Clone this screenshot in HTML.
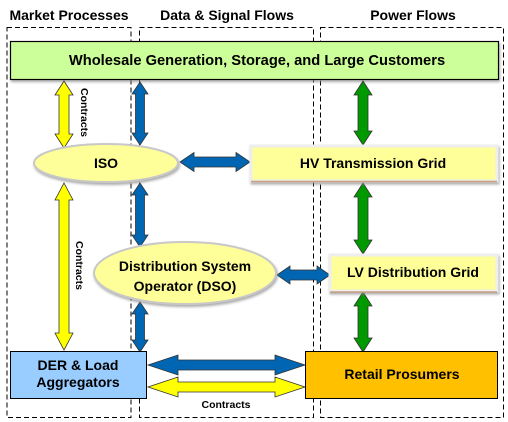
<!DOCTYPE html>
<html><head><meta charset="utf-8"><style>
html,body{margin:0;padding:0;background:#fff;}
svg{display:block;font-family:"Liberation Sans",Arial,sans-serif;font-weight:bold;}
</style></head><body>
<svg width="508" height="422" viewBox="0 0 508 422" xmlns="http://www.w3.org/2000/svg">
<defs>
<filter id="sh" x="-10%" y="-10%" width="130%" height="140%"><feDropShadow dx="1" dy="2" stdDeviation="1.2" flood-color="#888" flood-opacity="0.7"/></filter>
</defs>
<g font-size="14" fill="#000" text-anchor="middle">
<text x="69" y="20">Market Processes</text>
<text x="227" y="20">Data &amp; Signal Flows</text>
<text x="413" y="20">Power Flows</text>
</g>
<g fill="none" stroke="#000" stroke-width="1" stroke-dasharray="5,3">
<rect x="7" y="27.5" width="124" height="390"/>
<rect x="139.5" y="27.5" width="174" height="390"/>
<rect x="320.5" y="27.5" width="183" height="390"/>
</g>
<rect x="10.5" y="41.5" width="488" height="38" fill="#ccff99" stroke="#000" stroke-width="1.2" filter="url(#sh)"/>
<text x="257" y="65" font-size="14.7" text-anchor="middle">Wholesale Generation, Storage, and Large Customers</text>

<g stroke="#333" stroke-width="0.8">
<polygon fill="#ffff00" points="64,81 73,95 69,95 69,134 73,134 64,148 55,134 59,134 59,95 55,95"/>
<polygon fill="#0066b3" points="140,82 148,94 144.5,94 144.5,133 148,133 140,145 132,133 135.5,133 135.5,94 132,94"/>
<polygon fill="#009900" points="363,81 372,95 368,95 368,131 372,131 363,145 354,131 358,131 358,95 354,95"/>
<polygon fill="#ffff00" points="64,183 73,200 69,200 69,333 73,333 64,350 55,333 59,333 59,200 55,200"/>
<polygon fill="#0066b3" points="140,183 148,195 144.5,195 144.5,235 148,235 140,247 132,235 135.5,235 135.5,195 132,195"/>
<polygon fill="#009900" points="363,183 372,197 368,197 368,240 372,240 363,254 354,240 358,240 358,197 354,197"/>
<polygon fill="#0066b3" points="140,302 148,314 144.5,314 144.5,340 148,340 140,352 132,340 135.5,340 135.5,314 132,314"/>
<polygon fill="#009900" points="363,292 372,306 368,306 368,338 372,338 363,352 354,338 358,338 358,306 354,306"/>
<polygon fill="#0066b3" points="180,162 194,152.5 194,157 236,157 236,152.5 250,162 236,171.5 236,167 194,167 194,171.5"/>
<polygon fill="#0066b3" points="277,275 290,266 290,270 317,270 317,266 330,275 317,284 317,280 290,280 290,284"/>
<polygon fill="#0066b3" points="148,365 178,355 178,360 275,360 275,355 305,365 275,375 275,370 178,370 178,375"/>
<polygon fill="#ffff00" points="148,387 178,377 178,382 275,382 275,377 305,387 275,397 275,392 178,392 178,397"/>
</g>

<g font-size="10.5" fill="#000">
<text transform="translate(81,88) rotate(90)">Contracts</text>
<text transform="translate(76,241) rotate(90)">Contracts</text>
<text x="226" y="408" text-anchor="middle">Contracts</text>
</g>

<ellipse cx="106" cy="163" rx="72" ry="19" fill="#ffff99" stroke="#c8c8c8" stroke-width="2" filter="url(#sh)"/>
<text x="106" y="168" font-size="14" text-anchor="middle">ISO</text>

<rect x="251" y="146" width="246" height="35" fill="#ffff99" stroke="#eee" stroke-width="3" filter="url(#sh)"/>
<line x1="251" y1="181.5" x2="497" y2="181.5" stroke="#c8a080" stroke-width="1.5"/>
<text x="373" y="168" font-size="14" text-anchor="middle">HV Transmission Grid</text>

<ellipse cx="185" cy="273" rx="91" ry="31" fill="#ffff99" stroke="#c8c8c8" stroke-width="2" filter="url(#sh)"/>
<text x="185" y="271" font-size="14" text-anchor="middle">Distribution System</text>
<text x="185" y="291" font-size="14" text-anchor="middle">Operator (DSO)</text>

<rect x="330" y="255" width="167" height="36" fill="#ffff99" stroke="#eee" stroke-width="3" filter="url(#sh)"/>
<line x1="330" y1="292" x2="497" y2="292" stroke="#c8a080" stroke-width="1.5"/>
<text x="413" y="277" font-size="14" text-anchor="middle">LV Distribution Grid</text>

<rect x="10.5" y="351.5" width="136" height="47" fill="#99ccff" stroke="#000" stroke-width="1"/>
<text x="78" y="370" font-size="14" text-anchor="middle">DER &amp; Load</text>
<text x="78" y="387" font-size="14" text-anchor="middle">Aggregators</text>

<rect x="305.5" y="351.5" width="192" height="47" fill="#ffc000" stroke="#000" stroke-width="1"/>
<text x="402" y="379" font-size="14" text-anchor="middle">Retail Prosumers</text>
</svg>
</body></html>
